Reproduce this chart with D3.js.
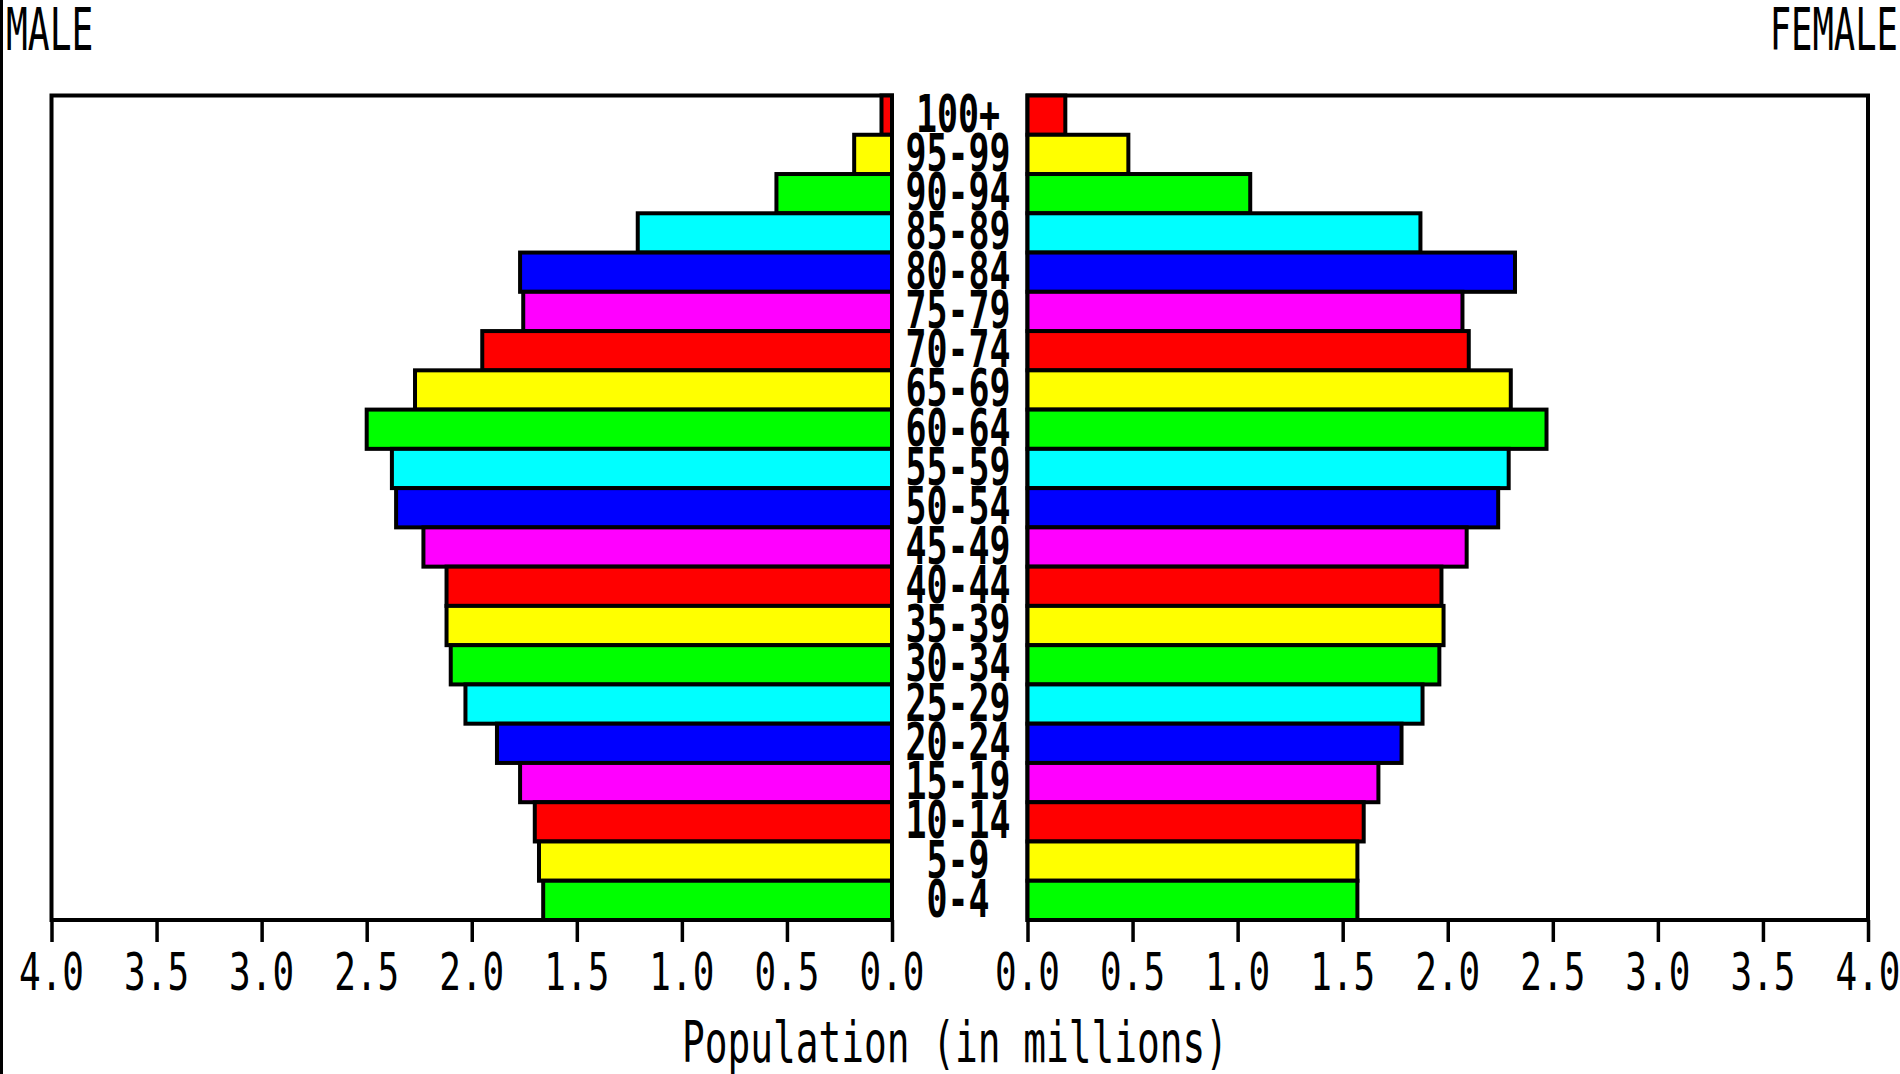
<!DOCTYPE html>
<html><head><meta charset="utf-8">
<script src="https://cdn.jsdelivr.net/npm/d3@7"></script>
<style>html,body{margin:0;padding:0;background:#fff;overflow:hidden}</style>
</head><body>
<svg id="c" width="1900" height="1074"></svg>
<script>
const ageGroups = ["100+","95-99","90-94","85-89","80-84","75-79","70-74","65-69","60-64","55-59","50-54","45-49","40-44","35-39","30-34","25-29","20-24","15-19","10-14","5-9","0-4"];
const male   = [0.05,0.18,0.55,1.21,1.77,1.755,1.95,2.27,2.50,2.38,2.36,2.23,2.12,2.12,2.10,2.03,1.88,1.77,1.70,1.68,1.66];
const female = [0.18,0.48,1.06,1.87,2.32,2.07,2.10,2.30,2.47,2.29,2.24,2.09,1.97,1.98,1.96,1.88,1.78,1.67,1.60,1.57,1.57];
const rowColors = ["#00ff00","#ffff00","#ff0000","#ff00ff","#0000ff","#00ffff"]; // cycle from the youngest group upward
const tickValues = [0,0.5,1,1.5,2,2.5,3,3.5,4];
const axisTitle = "Population (in millions)";

const svg = d3.select("#c");
const yTop = 95.5, yBottom = 920;
const xL = d3.scaleLinear().domain([0,4]).range([892,51.5]);
const xR = d3.scaleLinear().domain([0,4]).range([1027.5,1868]);
const y = d3.scaleBand().domain(ageGroups).range([yTop,yBottom]).padding(0);

// left image border line
svg.append("rect").attr("x",0).attr("y",0).attr("width",3).attr("height",1074).attr("fill","#000");

function txt(str, x, yb, F, sx, sy, anchor, weight){
  svg.append("text")
    .attr("transform",`translate(${x},${yb}) scale(${sx},${sy})`)
    .attr("text-anchor",anchor)
    .attr("font-family","DejaVu Sans Mono")
    .attr("font-weight",weight||"normal")
    .attr("font-size",F)
    .attr("fill","#000")
    .text(str);
}

// Titles
txt("MALE", 6, 50, 37, 0.98, 1.59, "start");
txt("FEMALE", 1898, 50, 37, 0.96, 1.59, "end");

// frames
[xL, xR].forEach(sc=>{
  const r = sc.range();
  svg.append("rect")
    .attr("x",Math.min(r[0],r[1])).attr("y",yTop)
    .attr("width",Math.abs(r[1]-r[0])).attr("height",yBottom-yTop)
    .attr("fill","none").attr("stroke","#000").attr("stroke-width",4);
});

// bars
ageGroups.forEach((a,i)=>{
  const c = rowColors[(ageGroups.length-1-i)%6];
  svg.append("rect")
    .attr("x",xL(male[i])).attr("y",y(a))
    .attr("width",xL(0)-xL(male[i])).attr("height",y.bandwidth())
    .attr("fill",c).attr("stroke","#000").attr("stroke-width",4);
  svg.append("rect")
    .attr("x",xR(0)).attr("y",y(a))
    .attr("width",xR(female[i])-xR(0)).attr("height",y.bandwidth())
    .attr("fill",c).attr("stroke","#000").attr("stroke-width",4);
});

// age labels
ageGroups.forEach(a=>{
  const cy = y(a)+y.bandwidth()/2 - 2;
  txt(a, 958, cy+18.5, 36, 0.97, 1.41, "middle", "bold");
});

// axes
[xL, xR].forEach(sc=>{
  const g = svg.append("g").attr("transform",`translate(0,${yBottom})`);
  const ax = d3.axisBottom(sc).tickValues(tickValues).tickSize(22).tickFormat(()=>"");
  g.call(ax);
  g.select(".domain").remove();
  g.selectAll(".tick line").attr("stroke","#000").attr("stroke-width",3.5);
  tickValues.forEach(v=>{
    txt(d3.format(".1f")(v), sc(v), 990, 36, 1.0, 1.45, "middle");
  });
});

// axis title
txt(axisTitle, 955, 1062, 37.8, 1.0, 1.52, "middle");
</script>
</body></html>
